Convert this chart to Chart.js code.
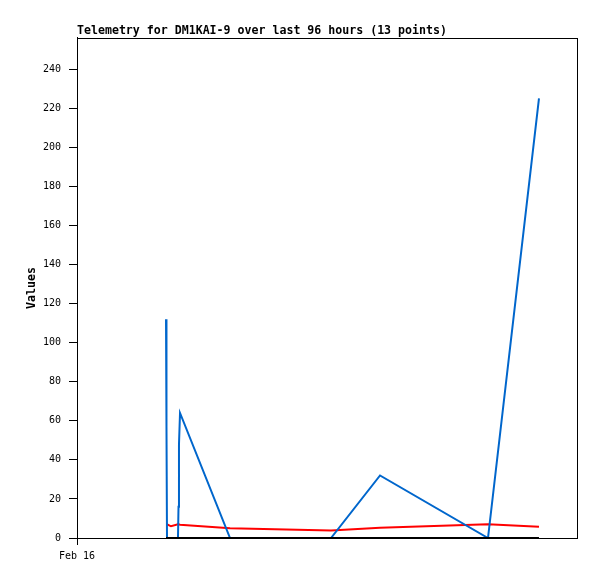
<!DOCTYPE html>
<html>
<head>
<meta charset="utf-8">
<script src="https://cdn.jsdelivr.net/npm/chart.js@4/dist/chart.umd.min.js"></script>
<style>
  html, body { margin: 0; padding: 0; background: #fff; }
  canvas { display: block; }
</style>
</head>
<body>
<canvas id="chartCanvas" width="597" height="579"></canvas>
<script>
// hours since Feb 16 00:00 (x axis spans 96 hours)
const hours = [17.09, 17.18, 17.28, 18.05, 19.39, 19.49, 19.58, 19.78, 29.38, 48.77, 58.18, 78.91, 88.70];
const blueValues = [112, 57, 0, 0, 0, 16, 48, 64, 0, 0, 32, 0, 225];
const redValues = [7, 7, 7, 6, 7, 7, 7, 6.8, 5, 3.8, 5.2, 7, 5.8];
const blackValues = [0, 0, 0, 0, 0, 0, 0, 0, 0, 0, 0, 0, 0];
const xTickLabels = ['Feb 16'];
const yTicks = [0, 20, 40, 60, 80, 100, 120, 140, 160, 180, 200, 220, 240];

const mono = "'DejaVu Sans Mono', 'Liberation Mono', monospace";

function points(values) {
    return values.map((v, i) => ({ x: hours[i], y: v }));
}

const frame = {
    id: 'frame',
    afterDraw(chart) {
        const a = chart.chartArea;
        const c = chart.ctx;
        c.save();
        c.strokeStyle = '#000';
        c.lineWidth = 1;
        c.strokeRect(Math.round(a.left) + 0.5, Math.round(a.top) + 0.5, Math.round(a.right - a.left), Math.round(a.bottom - a.top));
        c.restore();
    }
};

const ctx = document.getElementById("chartCanvas");

new Chart(ctx, {
    type: 'line',
    data: {
        datasets: [
            { data: points(blackValues), borderColor: '#000000', borderWidth: 2 },
            { data: points(blueValues), borderColor: '#0066cc', borderWidth: 2 },
            { data: points(redValues), borderColor: '#ff0000', borderWidth: 2 }
        ]
    },
    options: {
        responsive: false,
        animation: false,
        devicePixelRatio: 1,
        layout: { padding: { left: 0, right: 20, top: 0, bottom: 0 } },
        elements: {
            point: { radius: 0 },
            line: { tension: 0, borderCapStyle: 'butt' }
        },
        plugins: {
            legend: { display: false },
            tooltip: { enabled: false },
            title: {
                display: true,
                text: 'Telemetry for DM1KAI-9 over last 96 hours (13 points)',
                align: 'start',
                fullSize: false,
                color: '#000',
                font: { family: mono, size: 11.6, weight: 'bold', lineHeight: 1.2 },
                padding: { top: 24, bottom: 0 }
            }
        },
        scales: {
            x: {
                type: 'linear',
                min: 0,
                max: 96,
                afterBuildTicks: scale => { scale.ticks = [{ value: 0 }]; },
                afterFit: scale => { scale.height = 41; },
                ticks: {
                    color: '#000',
                    font: { family: mono, size: 10 },
                    padding: 5,
                    maxRotation: 0,
                    callback: (v, i) => xTickLabels[i]
                },
                grid: { drawOnChartArea: false, tickLength: 7, color: '#000', tickWidth: 1 },
                border: { color: '#000', width: 1 }
            },
            y: {
                min: 0,
                max: 256,
                afterBuildTicks: scale => { scale.ticks = yTicks.map(v => ({ value: v })); },
                afterFit: scale => { scale.width = 77; },
                ticks: {
                    color: '#000',
                    font: { family: mono, size: 10 },
                    padding: 8
                },
                grid: { drawOnChartArea: false, tickLength: 8, color: '#000', tickWidth: 1 },
                border: { color: '#000', width: 1 },
                title: {
                    display: true,
                    text: 'Values',
                    color: '#000',
                    font: { family: mono, size: 11.6, weight: 'bold', lineHeight: 1.2 },
                    padding: { top: 25, bottom: 0 }
                }
            }
        }
    },
    plugins: [frame]
});
</script>
</body>
</html>
